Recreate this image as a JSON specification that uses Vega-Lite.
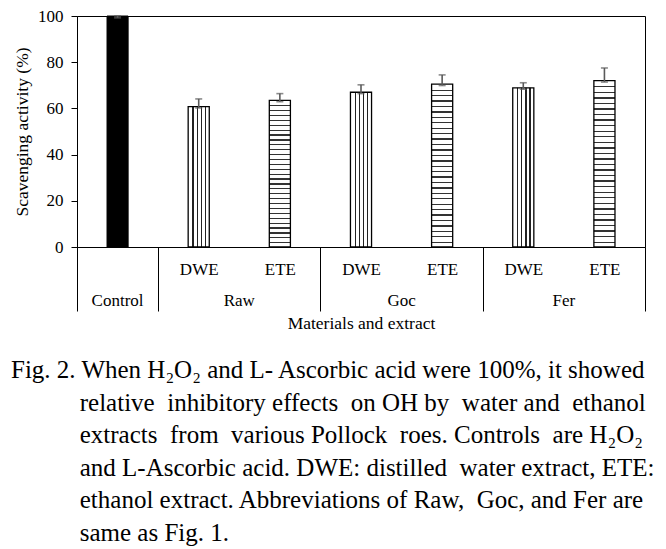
{
  "$schema": "https://vega.github.io/schema/vega-lite/v6.json",
  "width": 568,
  "height": 231,
  "autosize": "none",
  "padding": {"left": 77, "top": 16, "right": 21, "bottom": 302},
  "background": "white",
  "config": {
    "font": "Liberation Serif",
    "view": {"stroke": "black", "strokeWidth": 1},
    "axis": {"domainColor": "black", "tickColor": "black", "labelColor": "black", "titleColor": "black", "grid": false},
    "axisY": {"tickSize": 6, "labelPadding": 8, "labelFont": "Liberation Serif", "labelFontSize": 17, "titleFont": "Liberation Serif", "titleFontSize": 17.5, "titleFontWeight": "normal", "titlePadding": 6}
  },
  "title": {
    "text": [
      "Fig. 2. When H₂O₂ and L- Ascorbic acid were 100%, it showed",
      "\u200b\u00a0\u00a0\u00a0\u00a0\u00a0\u00a0\u00a0\u00a0\u00a0\u00a0\u00a0relative\u00a0 inhibitory effects\u00a0 on OH by\u00a0 water and\u00a0 ethanol",
      "\u200b\u00a0\u00a0\u00a0\u00a0\u00a0\u00a0\u00a0\u00a0\u00a0\u00a0\u00a0extracts\u00a0 from\u00a0 various Pollock\u00a0 roes. Controls\u00a0 are H₂O₂",
      "\u200b\u00a0\u00a0\u00a0\u00a0\u00a0\u00a0\u00a0\u00a0\u00a0\u00a0\u00a0and L-Ascorbic acid. DWE: distilled\u00a0 water extract, ETE:",
      "\u200b\u00a0\u00a0\u00a0\u00a0\u00a0\u00a0\u00a0\u00a0\u00a0\u00a0\u00a0ethanol extract. Abbreviations of Raw,\u00a0 Goc, and Fer are",
      "\u200b\u00a0\u00a0\u00a0\u00a0\u00a0\u00a0\u00a0\u00a0\u00a0\u00a0\u00a0same as Fig. 1."
    ],
    "orient": "bottom",
    "anchor": "start",
    "frame": "group",
    "font": "Liberation Serif",
    "fontSize": 25,
    "fontWeight": "normal",
    "color": "black",
    "lineHeight": 32.5,
    "offset": 26,
    "dx": -66
  },
  "data": {
    "values": [
      {"cat": "Control", "group": "Control", "extract": "Control", "value": 100, "lower": 99.2, "upper": 100},
      {"cat": "Raw DWE", "group": "Raw", "extract": "DWE", "value": 60.8, "lower": 60.2, "upper": 64.1},
      {"cat": "Raw ETE", "group": "Raw", "extract": "ETE", "value": 63.5, "lower": 62.9, "upper": 66.4},
      {"cat": "Goc DWE", "group": "Goc", "extract": "DWE", "value": 67.0, "lower": 66.4, "upper": 70.2},
      {"cat": "Goc ETE", "group": "Goc", "extract": "ETE", "value": 70.5, "lower": 69.9, "upper": 74.5},
      {"cat": "Fer DWE", "group": "Fer", "extract": "DWE", "value": 68.9, "lower": 68.3, "upper": 71.1},
      {"cat": "Fer ETE", "group": "Fer", "extract": "ETE", "value": 72.0, "lower": 71.4, "upper": 77.5}
    ]
  },
  "resolve": {"axis": {"x": "independent"}},
  "layer": [
    {
      "transform": [{"filter": "datum.extract === 'Control'"}],
      "mark": {"type": "bar", "fill": "black", "stroke": "black", "strokeWidth": 1, "width": {"band": 0.26}},
      "encoding": {
        "x": {
          "field": "cat", "type": "nominal",
          "scale": {"domain": ["Control", "Raw DWE", "Raw ETE", "Goc DWE", "Goc ETE", "Fer DWE", "Fer ETE"], "paddingInner": 0, "paddingOuter": 0},
          "axis": {
            "orient": "bottom",
            "title": null,
            "domain": true,
            "domainWidth": 1,
            "ticks": true,
            "tickBand": "extent",
            "tickSize": 64,
            "tickWidth": 1,
            "tickOpacity": {"condition": {"test": "datum.index < 0 || indexof(['Control','Raw ETE','Goc ETE','Fer ETE'], datum.value) >= 0", "value": 1}, "value": 0},
            "labelExpr": "indexof(datum.label, 'DWE') >= 0 ? 'DWE' : (indexof(datum.label, 'ETE') >= 0 ? 'ETE' : '')",
            "labelFont": "Liberation Serif",
            "labelFontSize": 17,
            "labelAngle": 0,
            "labelPadding": -49.5
          }
        },
        "y": {
          "field": "value", "type": "quantitative",
          "scale": {"domain": [0, 100], "nice": false},
          "axis": {
            "title": "Scavenging activity (%)",
            "values": [0, 20, 40, 60, 80, 100]
          }
        }
      }
    },
    {
      "transform": [{"filter": "datum.extract === 'DWE'"}],
      "mark": {
        "type": "bar", "stroke": "black", "strokeWidth": 1.3, "width": {"band": 0.26},
        "fill": {
          "gradient": "linear", "x1": 0, "y1": 0, "x2": 1, "y2": 0,
          "stops": [
            {"offset": 0, "color": "#ffffff"},
            {"offset": 0.2, "color": "#ffffff"}, {"offset": 0.2, "color": "#222222"}, {"offset": 0.255, "color": "#222222"}, {"offset": 0.255, "color": "#ffffff"},
            {"offset": 0.4, "color": "#ffffff"}, {"offset": 0.4, "color": "#222222"}, {"offset": 0.455, "color": "#222222"}, {"offset": 0.455, "color": "#ffffff"},
            {"offset": 0.6, "color": "#ffffff"}, {"offset": 0.6, "color": "#222222"}, {"offset": 0.655, "color": "#222222"}, {"offset": 0.655, "color": "#ffffff"},
            {"offset": 0.79, "color": "#ffffff"}, {"offset": 0.79, "color": "#222222"}, {"offset": 0.845, "color": "#222222"}, {"offset": 0.845, "color": "#ffffff"},
            {"offset": 1, "color": "#ffffff"}
          ]
        }
      },
      "encoding": {
        "x": {"field": "cat", "type": "nominal", "axis": null},
        "y": {"field": "value", "type": "quantitative"}
      }
    },
    {
      "transform": [{"filter": "datum.extract === 'ETE'"}],
      "mark": {
        "type": "bar", "stroke": "black", "strokeWidth": 1.3, "width": {"band": 0.26},
        "fill": {
          "gradient": "linear", "x1": 0, "y1": 0, "x2": 0, "y2": 1,
          "stops": [
            {"offset": 0, "color": "#ffffff"},
            {"offset": 0.033, "color": "#ffffff"}, {"offset": 0.033, "color": "#333333"}, {"offset": 0.041, "color": "#333333"}, {"offset": 0.041, "color": "#ffffff"},
            {"offset": 0.067, "color": "#ffffff"}, {"offset": 0.067, "color": "#333333"}, {"offset": 0.075, "color": "#333333"}, {"offset": 0.075, "color": "#ffffff"},
            {"offset": 0.100, "color": "#ffffff"}, {"offset": 0.100, "color": "#333333"}, {"offset": 0.108, "color": "#333333"}, {"offset": 0.108, "color": "#ffffff"},
            {"offset": 0.133, "color": "#ffffff"}, {"offset": 0.133, "color": "#333333"}, {"offset": 0.141, "color": "#333333"}, {"offset": 0.141, "color": "#ffffff"},
            {"offset": 0.167, "color": "#ffffff"}, {"offset": 0.167, "color": "#333333"}, {"offset": 0.175, "color": "#333333"}, {"offset": 0.175, "color": "#ffffff"},
            {"offset": 0.200, "color": "#ffffff"}, {"offset": 0.200, "color": "#333333"}, {"offset": 0.208, "color": "#333333"}, {"offset": 0.208, "color": "#ffffff"},
            {"offset": 0.233, "color": "#ffffff"}, {"offset": 0.233, "color": "#333333"}, {"offset": 0.241, "color": "#333333"}, {"offset": 0.241, "color": "#ffffff"},
            {"offset": 0.267, "color": "#ffffff"}, {"offset": 0.267, "color": "#333333"}, {"offset": 0.275, "color": "#333333"}, {"offset": 0.275, "color": "#ffffff"},
            {"offset": 0.300, "color": "#ffffff"}, {"offset": 0.300, "color": "#333333"}, {"offset": 0.308, "color": "#333333"}, {"offset": 0.308, "color": "#ffffff"},
            {"offset": 0.333, "color": "#ffffff"}, {"offset": 0.333, "color": "#333333"}, {"offset": 0.341, "color": "#333333"}, {"offset": 0.341, "color": "#ffffff"},
            {"offset": 0.367, "color": "#ffffff"}, {"offset": 0.367, "color": "#333333"}, {"offset": 0.375, "color": "#333333"}, {"offset": 0.375, "color": "#ffffff"},
            {"offset": 0.400, "color": "#ffffff"}, {"offset": 0.400, "color": "#333333"}, {"offset": 0.408, "color": "#333333"}, {"offset": 0.408, "color": "#ffffff"},
            {"offset": 0.433, "color": "#ffffff"}, {"offset": 0.433, "color": "#333333"}, {"offset": 0.441, "color": "#333333"}, {"offset": 0.441, "color": "#ffffff"},
            {"offset": 0.467, "color": "#ffffff"}, {"offset": 0.467, "color": "#333333"}, {"offset": 0.475, "color": "#333333"}, {"offset": 0.475, "color": "#ffffff"},
            {"offset": 0.500, "color": "#ffffff"}, {"offset": 0.500, "color": "#333333"}, {"offset": 0.508, "color": "#333333"}, {"offset": 0.508, "color": "#ffffff"},
            {"offset": 0.533, "color": "#ffffff"}, {"offset": 0.533, "color": "#333333"}, {"offset": 0.541, "color": "#333333"}, {"offset": 0.541, "color": "#ffffff"},
            {"offset": 0.567, "color": "#ffffff"}, {"offset": 0.567, "color": "#333333"}, {"offset": 0.575, "color": "#333333"}, {"offset": 0.575, "color": "#ffffff"},
            {"offset": 0.600, "color": "#ffffff"}, {"offset": 0.600, "color": "#333333"}, {"offset": 0.608, "color": "#333333"}, {"offset": 0.608, "color": "#ffffff"},
            {"offset": 0.633, "color": "#ffffff"}, {"offset": 0.633, "color": "#333333"}, {"offset": 0.641, "color": "#333333"}, {"offset": 0.641, "color": "#ffffff"},
            {"offset": 0.667, "color": "#ffffff"}, {"offset": 0.667, "color": "#333333"}, {"offset": 0.675, "color": "#333333"}, {"offset": 0.675, "color": "#ffffff"},
            {"offset": 0.700, "color": "#ffffff"}, {"offset": 0.700, "color": "#333333"}, {"offset": 0.708, "color": "#333333"}, {"offset": 0.708, "color": "#ffffff"},
            {"offset": 0.733, "color": "#ffffff"}, {"offset": 0.733, "color": "#333333"}, {"offset": 0.741, "color": "#333333"}, {"offset": 0.741, "color": "#ffffff"},
            {"offset": 0.767, "color": "#ffffff"}, {"offset": 0.767, "color": "#333333"}, {"offset": 0.775, "color": "#333333"}, {"offset": 0.775, "color": "#ffffff"},
            {"offset": 0.800, "color": "#ffffff"}, {"offset": 0.800, "color": "#333333"}, {"offset": 0.808, "color": "#333333"}, {"offset": 0.808, "color": "#ffffff"},
            {"offset": 0.833, "color": "#ffffff"}, {"offset": 0.833, "color": "#333333"}, {"offset": 0.841, "color": "#333333"}, {"offset": 0.841, "color": "#ffffff"},
            {"offset": 0.867, "color": "#ffffff"}, {"offset": 0.867, "color": "#333333"}, {"offset": 0.875, "color": "#333333"}, {"offset": 0.875, "color": "#ffffff"},
            {"offset": 0.900, "color": "#ffffff"}, {"offset": 0.900, "color": "#333333"}, {"offset": 0.908, "color": "#333333"}, {"offset": 0.908, "color": "#ffffff"},
            {"offset": 0.933, "color": "#ffffff"}, {"offset": 0.933, "color": "#333333"}, {"offset": 0.941, "color": "#333333"}, {"offset": 0.941, "color": "#ffffff"},
            {"offset": 0.967, "color": "#ffffff"}, {"offset": 0.967, "color": "#333333"}, {"offset": 0.975, "color": "#333333"}, {"offset": 0.975, "color": "#ffffff"},
            {"offset": 1, "color": "#ffffff"}
          ]
        }
      },
      "encoding": {
        "x": {"field": "cat", "type": "nominal", "axis": null},
        "y": {"field": "value", "type": "quantitative"}
      }
    },
    {
      "mark": {"type": "rule", "color": "#5a5a5a", "strokeWidth": 1.6},
      "encoding": {
        "x": {
          "field": "cat", "type": "nominal",
          "axis": {
            "orient": "bottom",
            "domain": false,
            "ticks": false,
            "labelExpr": "datum.label == 'Control' ? 'Control' : (indexof(datum.label, 'DWE') >= 0 ? split(datum.label, ' ')[0] : '')",
            "labelOffset": {"condition": {"test": "indexof(datum.label, 'DWE') >= 0", "value": 40.57}, "value": 0},
            "labelFont": "Liberation Serif",
            "labelFontSize": 17,
            "labelAngle": 0,
            "labelPadding": 45.5,
            "title": "Materials and extract",
            "titleFont": "Liberation Serif",
            "titleFontSize": 17.5,
            "titleFontWeight": "normal",
            "titlePadding": 6
          }
        },
        "y": {"field": "lower", "type": "quantitative"},
        "y2": {"field": "upper"}
      }
    },
    {
      "mark": {"type": "tick", "color": "#5a5a5a", "thickness": 1.6, "size": 7},
      "encoding": {
        "x": {"field": "cat", "type": "nominal", "axis": null},
        "y": {"field": "upper", "type": "quantitative"}
      }
    },
    {
      "mark": {"type": "tick", "color": "#5a5a5a", "thickness": 1.6, "size": 7},
      "encoding": {
        "x": {"field": "cat", "type": "nominal", "axis": null},
        "y": {"field": "lower", "type": "quantitative"}
      }
    }
  ]
}
